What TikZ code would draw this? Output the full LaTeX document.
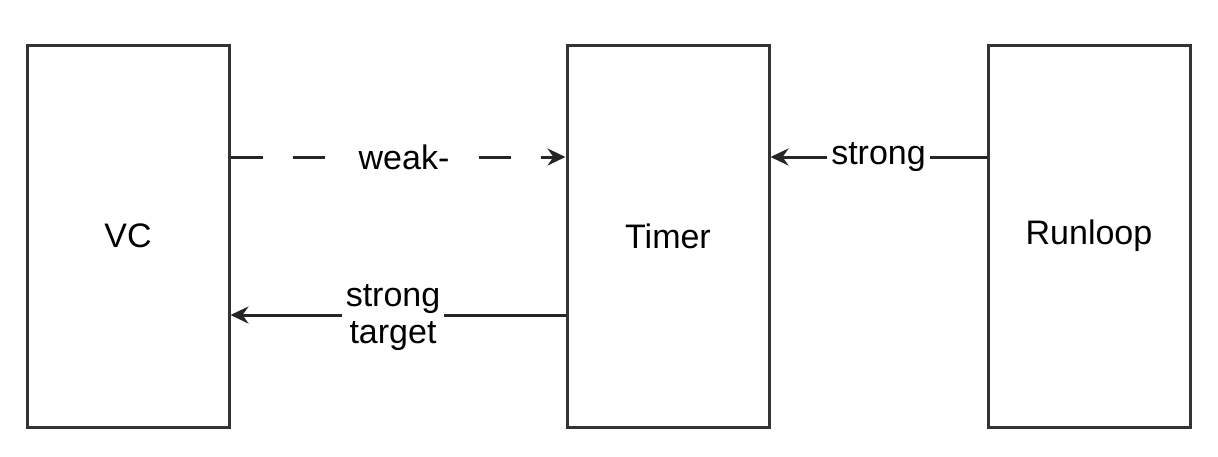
\documentclass[tikz,border=0pt]{standalone}
\usepackage{fontspec}
\setmainfont{Liberation Sans}
\usetikzlibrary{arrows.meta}
\begin{document}
\begin{tikzpicture}[x=1pt,y=-1pt,
  box/.style={draw=black!80,line width=3pt,minimum width=202pt,minimum height=382pt,inner sep=0pt,font=\fontsize{34}{37}\selectfont},
  conn/.style={line width=3pt,draw=black!85,-{Stealth[length=18pt,width=17pt,inset=6pt]}},
  lbl/.style={fill=white,inner xsep=4pt,inner ysep=2pt,font=\fontsize{34}{37}\selectfont,align=center}]
\useasboundingbox (0,0) rectangle (1218,456);
\node[box] (vc) at (128,236) {VC};
\node[box] (timer) at (668,236) {Timer};
\node[box] (rl) at (1089,236) {Runloop};
\draw[conn,dash pattern=on 32pt off 30pt] (vc.east |- 0,157) -- node[lbl,pos=0.5,xshift=6pt,inner xsep=12pt] {weak-} (timer.west |- 0,157);
\draw[conn] (rl.west |- 0,157) -- node[lbl,pos=0.5] {strong} (timer.east |- 0,157);
\draw[conn] (timer.west |- 0,315) -- node[lbl,pos=0.5,inner ysep=0pt,xshift=-5pt,yshift=-3pt] {strong\\target} (vc.east |- 0,315);
\end{tikzpicture}
\end{document}
